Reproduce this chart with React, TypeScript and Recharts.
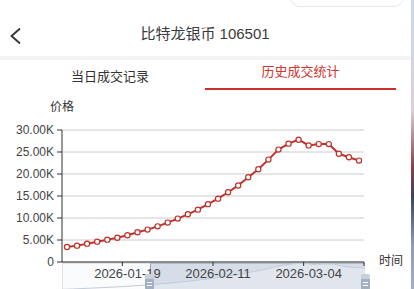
import React from 'react';
import { LineChart, Line, XAxis, YAxis, CartesianGrid, AreaChart, Area } from 'recharts';

// trade dates (category axis)
const DATES = [
  '2026-01-05', '2026-01-07', '2026-01-09', '2026-01-12', '2026-01-14', '2026-01-16',
  '2026-01-19', '2026-01-21', '2026-01-23', '2026-01-26', '2026-01-28', '2026-01-30',
  '2026-02-02', '2026-02-04', '2026-02-06', '2026-02-11', '2026-02-12', '2026-02-13',
  '2026-02-24', '2026-02-25', '2026-02-26', '2026-02-27', '2026-03-02', '2026-03-03',
  '2026-03-04', '2026-03-06', '2026-03-09', '2026-03-11', '2026-03-13', '2026-03-16',
];

// closing price
const PRICES = [
  3410, 3720, 4170, 4620, 5080, 5500, 6070, 6750, 7360, 8100,
  8950, 9860, 10840, 11900, 13150, 14400, 15850, 17400, 19250, 21070,
  23270, 25550, 26900, 27800, 26500, 26800, 26800, 24600, 23800, 23050,
];

const Y_TICKS = [0, 5000, 10000, 15000, 20000, 25000, 30000];
const X_TICKS = ['2026-01-19', '2026-02-11', '2026-03-04', '2026-03-16'];
const LAST_DATE = '2026-03-16';

// dataZoom window, percent
const ZOOM_START = 29;
const ZOOM_END = 100;

const data = DATES.map((d, i) => ({ date: d, price: PRICES[i] }));

const FONT = "'Liberation Sans', 'Noto Sans CJK SC', sans-serif";
const RED = '#c0312b';
const HALF_BAND = 5.03;

const fmtPrice = (v: number) => (v === 0 ? '0' : `${(v / 1000).toFixed(2)}K`);

const DateTick = (props: any) => {
  const { x, y, payload } = props;
  const isLast = payload.value === LAST_DATE;
  const lx = isLast ? x + HALF_BAND : x - HALF_BAND;
  return (
    <g>
      <line x1={lx} y1={y - 7} x2={lx} y2={y - 3} stroke="#333" strokeWidth={1} />
      {!isLast && (
        <text x={x} y={y} dy="0.71em" textAnchor="middle" fill="#444" fontSize={13} fontFamily={FONT}>
          {payload.value}
        </text>
      )}
    </g>
  );
};

const App: React.FC = () => {
  const plotLeft = 62;
  const plotWidth = 303;
  const selLeft = plotLeft + (plotWidth * ZOOM_START) / 100;
  const selRight = plotLeft + (plotWidth * ZOOM_END) / 100;

  return (
    <div style={{ position: 'fixed', left: 0, top: 0, width: 414, height: 289, overflow: 'hidden', background: '#fff', fontFamily: FONT }}>
      {/* top right pill */}
      <div style={{ position: 'absolute', left: 290, top: -20, width: 112, height: 25, border: '1px solid #e8e8e8', borderRadius: 10 }} />
      {/* right edge */}
      <div style={{ position: 'absolute', left: 411, top: 0, width: 3, height: 289, background: 'linear-gradient(#c9d8ea 0%, #dcd0d8 38%, #8a3e4e 58%, #3c4558 68%, #8e9cba 85%, #a4b0c8 100%)' }} />

      {/* header */}
      <svg style={{ position: 'absolute', left: 0, top: 0 }} width={30} height={50}>
        <polyline points="20,28.5 11.5,36 20,43.5" fill="none" stroke="#333" strokeWidth={1.8} />
      </svg>
      <div style={{ position: 'absolute', left: 0, top: 24, width: 410, textAlign: 'center', fontSize: 15, lineHeight: '20px', color: '#3a3a3a' }}>
        比特龙银币 106501
      </div>
      <div style={{ position: 'absolute', left: 0, top: 56, width: 411, height: 4, background: '#f4f4f4' }} />

      {/* tabs */}
      <div style={{ position: 'absolute', left: 50, top: 69, width: 120, textAlign: 'center', fontSize: 13, lineHeight: '16px', color: '#333' }}>
        当日成交记录
      </div>
      <div style={{ position: 'absolute', left: 240, top: 64, width: 121, textAlign: 'center', fontSize: 13, lineHeight: '16px', color: '#d0352e' }}>
        历史成交统计
      </div>
      <div style={{ position: 'absolute', left: 205, top: 87.5, width: 191, height: 2.5, background: '#c9302c' }} />

      {/* dataZoom slider (under the chart) */}
      <div style={{ position: 'absolute', left: plotLeft, top: 263, width: plotWidth, height: 30, background: '#fafbfc', border: '1px solid #e0e3e8', boxSizing: 'border-box' }} />
      <div style={{ position: 'absolute', left: selLeft, top: 263, width: selRight - selLeft, height: 30, background: '#d6dde8', borderLeft: '1px solid #9aa6b8', borderTop: '1px solid #b0bac8', boxSizing: 'border-box' }} />
      <div style={{ position: 'absolute', left: plotLeft, top: 263 }}>
        <AreaChart width={plotWidth} height={30} data={data} margin={{ top: 0, right: 0, bottom: 0, left: 0 }}>
          <XAxis dataKey="date" hide />
          <YAxis hide domain={[0, 'dataMax']} />
          <Area type="linear" dataKey="price" stroke="#c3cbd8" strokeWidth={1} fill="rgba(255,255,255,0.45)" dot={false} isAnimationActive={false} />
        </AreaChart>
      </div>

      {/* axis names */}
      <div style={{ position: 'absolute', left: 47, top: 99, width: 30, textAlign: 'center', fontSize: 12, lineHeight: '16px', color: '#333' }}>价格</div>
      <div style={{ position: 'absolute', left: 379, top: 253, fontSize: 12, lineHeight: '16px', color: '#333' }}>时间</div>

      <div style={{ position: 'absolute', left: 0, top: 0 }}>
        <LineChart width={414} height={289} data={data} margin={{ top: 130, right: 50, bottom: 0, left: 0 }}>
          <CartesianGrid vertical={false} stroke="#cccccc" />
          <XAxis
            dataKey="date"
            ticks={X_TICKS}
            interval={0}
            height={27}
            padding={{ left: 5, right: 5 }}
            axisLine={{ stroke: '#333' }}
            tickLine={false}
            tickSize={4}
            tickMargin={3}
            tick={<DateTick />}
          />
          <YAxis
            width={62}
            domain={[0, 30000]}
            ticks={Y_TICKS}
            interval={0}
            tickFormatter={fmtPrice}
            axisLine={{ stroke: '#333' }}
            tickLine={{ stroke: '#333' }}
            tickSize={5}
            tickMargin={3}
            tick={{ fill: '#444', fontSize: 12, fontFamily: FONT }}
          />
          <Line
            type="linear"
            dataKey="price"
            stroke={RED}
            strokeWidth={2}
            dot={{ r: 2.6, fill: '#fff', stroke: RED, strokeWidth: 1.2 }}
            isAnimationActive={false}
          />
        </LineChart>
      </div>

      {/* slider handles */}
      {[selLeft, selRight].map((hx, i) => (
        <div key={i} style={{ position: 'absolute', left: hx - 4.5, top: 274, width: 9, height: 16, borderRadius: 2, background: 'linear-gradient(#c8d0dc 0%, #c8d0dc 30%, #a3b0c3 30%)' }}>
          <div style={{ position: 'absolute', left: 2, top: 8, width: 5, height: 1, background: '#fff' }} />
          <div style={{ position: 'absolute', left: 2, top: 11, width: 5, height: 1, background: '#fff' }} />
        </div>
      ))}
    </div>
  );
};

export default App;
